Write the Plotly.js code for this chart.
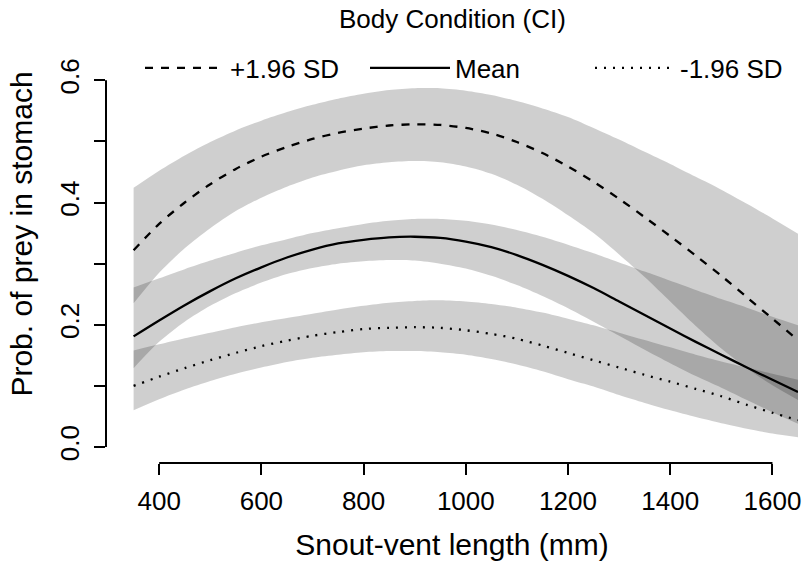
<!DOCTYPE html>
<html>
<head>
<meta charset="utf-8">
<script src="https://cdn.plot.ly/plotly-3.0.1.min.js"></script>
<style>
  html, body { margin: 0; padding: 0; background: #ffffff; }
  #chart { width: 804px; height: 569px; }
</style>
</head>
<body>
<div id="chart"></div>
<script>
// Snout-vent length (mm)
const svl = [350, 400, 450, 500, 550, 600, 650, 700, 750, 800, 850, 900, 950, 1000,
             1050, 1100, 1150, 1200, 1250, 1300, 1350, 1400, 1450, 1500, 1550, 1600, 1650];

// Body condition +1.96 SD
const plusFit = [0.322, 0.365, 0.400, 0.430, 0.455, 0.475, 0.491, 0.504, 0.514, 0.521, 0.526, 0.528, 0.527, 0.522,
                 0.513, 0.499, 0.481, 0.459, 0.434, 0.406, 0.376, 0.345, 0.313, 0.280, 0.245, 0.210, 0.175];
const plusLo  = [0.235, 0.285, 0.325, 0.358, 0.386, 0.408, 0.426, 0.441, 0.452, 0.461, 0.466, 0.468, 0.466, 0.459,
                 0.447, 0.429, 0.406, 0.379, 0.350, 0.315, 0.278, 0.238, 0.198, 0.161, 0.129, 0.101, 0.077];
const plusHi  = [0.424, 0.452, 0.477, 0.499, 0.518, 0.534, 0.548, 0.560, 0.570, 0.578, 0.584, 0.587, 0.587, 0.583,
                 0.576, 0.566, 0.554, 0.540, 0.522, 0.503, 0.483, 0.463, 0.442, 0.421, 0.398, 0.374, 0.349];

// Mean body condition
const meanFit = [0.181, 0.207, 0.232, 0.255, 0.276, 0.294, 0.310, 0.323, 0.333, 0.339, 0.343, 0.344, 0.342, 0.336,
                 0.327, 0.314, 0.298, 0.280, 0.260, 0.238, 0.216, 0.194, 0.172, 0.151, 0.130, 0.110, 0.090];
const meanLo  = [0.129, 0.172, 0.205, 0.231, 0.252, 0.269, 0.283, 0.293, 0.300, 0.304, 0.306, 0.305, 0.300, 0.292,
                 0.280, 0.265, 0.247, 0.227, 0.205, 0.182, 0.159, 0.137, 0.116, 0.097, 0.077, 0.057, 0.038];
const meanHi  = [0.261, 0.276, 0.291, 0.305, 0.318, 0.330, 0.340, 0.350, 0.358, 0.365, 0.370, 0.373, 0.373, 0.370,
                 0.364, 0.355, 0.344, 0.331, 0.317, 0.302, 0.287, 0.272, 0.257, 0.242, 0.228, 0.213, 0.199];

// Body condition -1.96 SD
const minusFit = [0.100, 0.115, 0.129, 0.142, 0.154, 0.165, 0.174, 0.182, 0.188, 0.193, 0.195, 0.196, 0.195, 0.191,
                  0.185, 0.177, 0.166, 0.154, 0.142, 0.130, 0.118, 0.107, 0.095, 0.083, 0.069, 0.056, 0.044];
const minusLo  = [0.060, 0.078, 0.094, 0.108, 0.120, 0.130, 0.139, 0.146, 0.151, 0.155, 0.157, 0.157, 0.155, 0.151,
                  0.144, 0.135, 0.124, 0.111, 0.099, 0.085, 0.072, 0.060, 0.049, 0.039, 0.030, 0.022, 0.016];
const minusHi  = [0.158, 0.168, 0.178, 0.187, 0.196, 0.204, 0.211, 0.218, 0.225, 0.231, 0.236, 0.239, 0.240, 0.238,
                  0.234, 0.228, 0.220, 0.210, 0.199, 0.187, 0.175, 0.163, 0.151, 0.140, 0.130, 0.120, 0.110];

const seriesLabels = ['+1.96 SD', 'Mean', '-1.96 SD'];
const legendTitle = 'Body Condition (CI)';
const xTicks = [400, 600, 800, 1000, 1200, 1400, 1600];
const yTicks = [0, 0.1, 0.2, 0.3, 0.4, 0.5, 0.6];
const yTickText = ['0.0', '', '0.2', '', '0.4', '', '0.6'];

const FONT = 'Liberation Sans, Arial, Helvetica, sans-serif';
const bandFill = 'rgba(0,0,0,0.19)';

function band(lo, hi) {
  return [
    {x: svl, y: lo, type: 'scatter', mode: 'lines', line: {width: 0, shape: 'spline', smoothing: 0.8},
     showlegend: false, hoverinfo: 'skip'},
    {x: svl, y: hi, type: 'scatter', mode: 'lines', line: {width: 0, shape: 'spline', smoothing: 0.8},
     fill: 'tonexty', fillcolor: bandFill, showlegend: false, hoverinfo: 'skip'}
  ];
}

const traces = [
  ...band(plusLo, plusHi),
  ...band(meanLo, meanHi),
  ...band(minusLo, minusHi),
  {x: svl, y: plusFit, type: 'scatter', mode: 'lines', name: seriesLabels[0],
   line: {color: '#000', width: 2.3, dash: '8px,8px', shape: 'spline', smoothing: 0.8}},
  {x: svl, y: meanFit, type: 'scatter', mode: 'lines', name: seriesLabels[1],
   line: {color: '#000', width: 2.3, dash: 'solid', shape: 'spline', smoothing: 0.8}},
  {x: svl, y: minusFit, type: 'scatter', mode: 'lines', name: seriesLabels[2],
   line: {color: '#000', width: 2.3, dash: '2px,7px', shape: 'spline', smoothing: 0.8}}
];

const layout = {
  width: 804, height: 569,
  margin: {l: 106, r: 6, t: 5, b: 106, pad: 0, autoexpand: false},
  paper_bgcolor: '#ffffff', plot_bgcolor: '#ffffff',
  font: {family: FONT, color: '#000', size: 26},
  showlegend: true,
  legend: {
    orientation: 'h', xref: 'container', yref: 'container',
    x: 140 / 804, xanchor: 'left', y: 1 - 68 / 569, yanchor: 'middle',
    bgcolor: 'rgba(0,0,0,0)', borderwidth: 0,
    font: {family: FONT, size: 26, color: '#000'},
    itemwidth: 80, entrywidth: 130, traceorder: 'normal'
  },
  annotations: [
    {text: legendTitle, xref: 'paper', yref: 'paper', x: (452 - 106) / 692, y: 1 + (462 - 18 - 458) / 458,
     xanchor: 'center', yanchor: 'middle', showarrow: false,
     font: {family: FONT, size: 26, color: '#000'}}
  ],
  xaxis: {
    range: [296, 1650], tickvals: xTicks, ticktext: xTicks.map(String),
    ticks: 'outside', ticklen: 11, tickwidth: 2, tickcolor: '#000',
    showline: false, showgrid: false, zeroline: false,
    tickfont: {family: FONT, size: 26, color: '#000'},
    ticklabelstandoff: 4,
    title: {text: 'Snout-vent length (mm)', font: {family: FONT, size: 30, color: '#000'}, standoff: 18},
    automargin: false, fixedrange: true
  },
  yaxis: {
    range: [-0.0262, 0.7232], tickvals: yTicks, ticktext: yTickText,
    ticks: 'outside', ticklen: 11, tickwidth: 2, tickcolor: '#000',
    tickangle: -90,
    showline: false, showgrid: false, zeroline: false,
    tickfont: {family: FONT, size: 26, color: '#000'},
    ticklabelstandoff: 5,
    title: {text: 'Prob. of prey in stomach', font: {family: FONT, size: 30, color: '#000'}, standoff: 13},
    automargin: false, fixedrange: true
  },
  shapes: [
    {type: 'line', xref: 'x', yref: 'paper', x0: xTicks[0], x1: xTicks[xTicks.length - 1], y0: 0, y1: 0,
     line: {color: '#000', width: 2}},
    {type: 'line', xref: 'paper', yref: 'y', x0: 0, x1: 0, y0: yTicks[0], y1: yTicks[yTicks.length - 1],
     line: {color: '#000', width: 2}}
  ]
};

Plotly.newPlot('chart', traces, layout, {displayModeBar: false, staticPlot: true});
</script>
</body>
</html>
